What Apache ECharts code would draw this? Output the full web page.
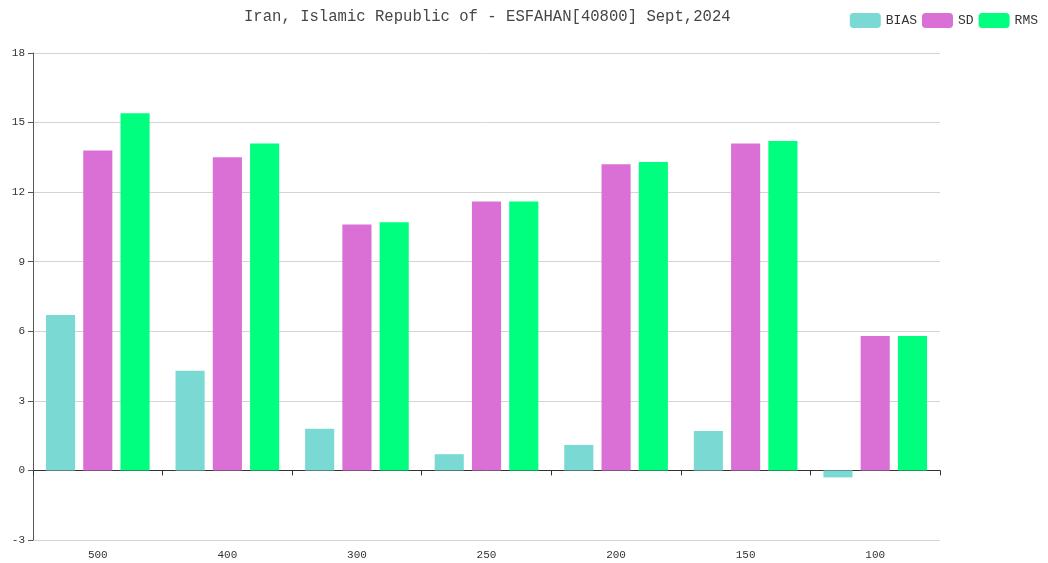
<!DOCTYPE html>
<html>
<head>
<meta charset="utf-8">
<script src="https://cdn.jsdelivr.net/npm/echarts@6/dist/echarts.min.js"></script>
<style>
  html, body { margin: 0; padding: 0; background: #fff; }
  #main { width: 1048px; height: 563px; }
</style>
</head>
<body>
<div id="main"></div>
<script>
var levels = ['500', '400', '300', '250', '200', '150', '100'];
var biasData = [6.7, 4.3, 1.8, 0.7, 1.1, 1.7, -0.3];
var sdData = [13.8, 13.5, 10.6, 11.6, 13.2, 14.1, 5.8];
var rmsData = [15.4, 14.1, 10.7, 11.6, 13.3, 14.2, 5.8];

var font = '"Liberation Mono", monospace';

var option = {
    animation: false,
    title: {
        text: 'Iran, Islamic Republic of - ESFAHAN[40800] Sept,2024',
        left: 239,
        top: 4,
        textStyle: {
            fontFamily: font,
            fontSize: 15.6,
            fontWeight: 'normal',
            color: '#464646'
        }
    },
    legend: {
        data: ['BIAS', 'SD', 'RMS'],
        right: 5,
        top: 8,
        itemWidth: 31,
        itemHeight: 15,
        itemGap: 5,
        textStyle: {
            fontFamily: font,
            fontSize: 13,
            color: '#333'
        }
    },
    grid: {
        left: 33,
        right: 108,
        top: 53,
        bottom: 23
    },
    xAxis: [
        {
            // axis line and ticks sitting on zero
            type: 'category',
            data: levels,
            position: 'bottom',
            axisLine: {onZero: true, lineStyle: {color: '#333'}},
            axisTick: {show: true, length: 5, lineStyle: {color: '#333'}},
            axisLabel: {show: false},
            splitLine: {show: false}
        },
        {
            // labels only, kept at the bottom
            type: 'category',
            data: levels,
            position: 'bottom',
            axisLine: {show: false, onZero: false},
            axisTick: {show: false},
            axisLabel: {
                margin: 10,
                fontFamily: font,
                fontSize: 11,
                color: '#333'
            },
            splitLine: {show: false}
        }
    ],
    yAxis: {
        type: 'value',
        min: -3,
        max: 18,
        interval: 3,
        axisLine: {show: true, lineStyle: {color: '#555'}},
        axisTick: {show: true, length: 5, lineStyle: {color: '#555'}},
        axisLabel: {
            fontFamily: font,
            fontSize: 11,
            color: '#333'
        },
        splitLine: {show: true, lineStyle: {color: '#d4d4d4'}}
    },
    series: [
        {
            name: 'BIAS',
            type: 'bar',
            xAxisIndex: 0,
            barGap: '28%',
            barCategoryGap: '20%',
            data: biasData,
            itemStyle: {color: '#7bd9d4'}
        },
        {
            name: 'SD',
            type: 'bar',
            xAxisIndex: 0,
            barGap: '28%',
            barCategoryGap: '20%',
            data: sdData,
            itemStyle: {color: '#da70d6'}
        },
        {
            name: 'RMS',
            type: 'bar',
            xAxisIndex: 0,
            barGap: '28%',
            barCategoryGap: '20%',
            data: rmsData,
            itemStyle: {color: '#00ff7f'}
        }
    ]
};

var myChart = echarts.init(document.getElementById('main'));
myChart.setOption(option);
</script>
</body>
</html>
